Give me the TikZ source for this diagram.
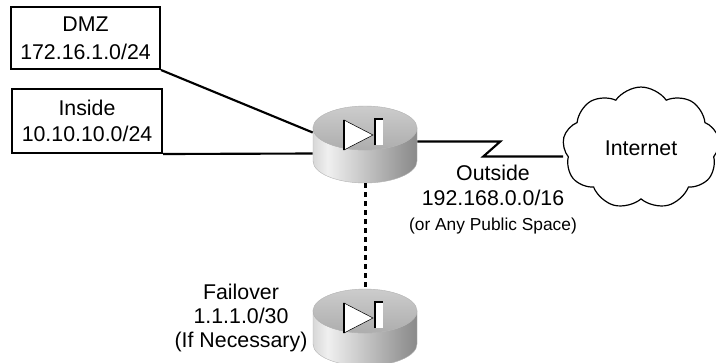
\documentclass[tikz,border=0pt]{standalone}
\usepackage{fontspec}
\setmainfont{Liberation Sans}
\usetikzlibrary{shapes.symbols}

\pgfdeclarehorizontalshading{pixside}{100bp}{color(0bp)=(black!50); color(32bp)=(black!6); color(70bp)=(black!42); color(100bp)=(black!65)}

\tikzset{
  label text/.style={font=\fontsize{16}{20}\selectfont, align=center},
  netbox/.style={draw, line width=1.5pt, inner sep=0pt, label text},
  link/.style={line width=1.6pt},
  pix/.pic={
    \begin{scope}[x=0.75pt, y=0.75pt]
      \shadedraw[shading=pixside, draw=black!30, line width=0.3pt]
        (-52,0) -- (-52,-33) arc[start angle=180, end angle=360, x radius=52, y radius=22]
        -- (52,0) arc[start angle=0, end angle=-180, x radius=52, y radius=22] -- cycle;
      \shadedraw[top color=black!20, bottom color=black!32, draw=black!30, line width=0.3pt]
        (0,0) ellipse[x radius=52, y radius=22];
      % diode mark
      \filldraw[fill=white, draw=black, line width=0.4pt] (-21,8) -- (8,-7) -- (-21,-22) -- cycle;
      \draw[line width=1.5pt] (-21,8) -- (-21,-22);
      \fill[white] (10,-17) rectangle (18,9);
      \draw[line width=1.5pt] (10,-17) -- (10,9) -- (18,9);
      \node[inner sep=0pt, minimum width=78pt, minimum height=57.75pt] (-body) at (0,-16.5) {};
    \end{scope}
  }
}

\begin{document}
\begin{tikzpicture}[x=0.75pt, y=-0.75pt]
  \useasboundingbox (0,0) rectangle (716,362);

  \node[netbox, minimum width=111.75pt, minimum height=46.5pt, font=\fontsize{16}{21}\selectfont]
    (dmz) at (85.5,38) {DMZ\\172.16.1.0/24};
  \node[netbox, minimum width=112.5pt, minimum height=48pt, font=\fontsize{16}{19.5}\selectfont]
    (inside) at (87,121) {Inside\\10.10.10.0/24};

  \pic (fw) at (365,128) {pix};
  \pic (sb) at (365,311) {pix};

  \node[cloud, draw, line width=0.9pt, cloud puffs=9, cloud puff arc=110, aspect=1.45,
        minimum width=112pt, minimum height=82pt, inner sep=12pt, label text]
    (net) at (641,148) {Internet};

  \draw[link] (dmz.south east) -- ([yshift=9pt]fw-body.west);
  \draw[link] (inside.south east) -- ([yshift=-6.75pt]fw-body.west);
  \draw[link] ([yshift=2.25pt]fw-body.east) -- ++(83,0) -- ++(-17,15) -- ([yshift=-6.375pt]net.west);
  \draw[line width=2.25pt, dash pattern=on 3.75pt off 3pt] (fw-body.south) -- (sb-body.north);

  \node[label text, font=\fontsize{16}{18.75}\selectfont] (outside) at (493,200)
    {Outside\\192.168.0.0/16\\{\fontsize{13}{18.75}\selectfont (or Any Public Space)}};
  \node[label text, font=\fontsize{16}{18}\selectfont] (failover) at (241,318)
    {Failover\\1.1.1.0/30\\(If Necessary)};
\end{tikzpicture}
\end{document}
